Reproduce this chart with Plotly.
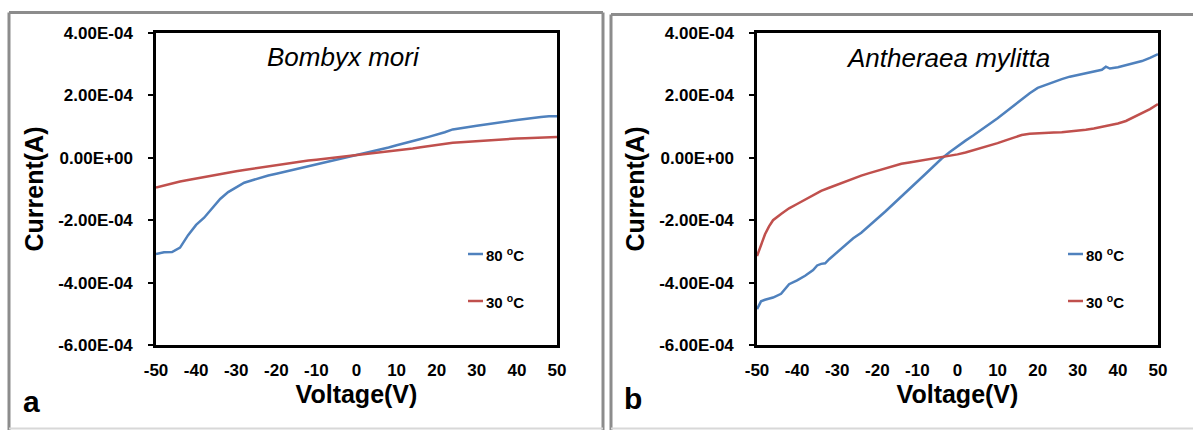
import plotly.graph_objects as go

# ---------------- data (values in units of 1e-4 A) ----------------
volt_a = [-50, -48, -46, -44, -42, -40, -38, -36, -34, -32, -30, -28, -26, -24, -22, -20,
          -18, -16, -14, -12, -10, -8, -6, -4, -2, 0, 2, 4, 6, 8, 10, 12, 14, 16, 18, 20,
          22, 24, 26, 28, 30, 32, 34, 36, 38, 40, 42, 44, 46, 48, 50]
bm_80 = [-3.08, -3.03, -3.02, -2.88, -2.48, -2.15, -1.92, -1.62, -1.32, -1.10, -0.95, -0.80,
         -0.72, -0.64, -0.57, -0.51, -0.45, -0.39, -0.34, -0.28, -0.23, -0.17, -0.11, -0.05,
         0.02, 0.08, 0.14, 0.20, 0.27, 0.33, 0.40, 0.46, 0.52, 0.60, 0.67, 0.74, 0.82, 0.91,
         0.96, 0.99, 1.03, 1.07, 1.10, 1.14, 1.17, 1.21, 1.24, 1.28, 1.31, 1.33, 1.33]
bm_30 = [-0.95, -0.88, -0.82, -0.76, -0.71, -0.66, -0.61, -0.56, -0.51, -0.47, -0.43, -0.39,
         -0.35, -0.31, -0.27, -0.23, -0.19, -0.16, -0.12, -0.09, -0.06, -0.03, 0.00, 0.02,
         0.05, 0.08, 0.10, 0.13, 0.16, 0.19, 0.22, 0.26, 0.30, 0.34, 0.38, 0.42, 0.45, 0.48,
         0.50, 0.52, 0.54, 0.56, 0.58, 0.59, 0.61, 0.62, 0.63, 0.64, 0.65, 0.66, 0.67]

volt_b80 = [-50, -49, -48, -46, -44, -43, -42, -40, -38, -36, -35, -34, -33, -32, -30, -28,
            -26, -24, -22, -20, -18, -16, -14, -12, -10, -8, -6, -4, -2, 0, 2, 4, 6, 8, 10,
            12, 14, 16, 18, 20, 22, 24, 26, 28, 30, 32, 34, 36, 37, 38, 40, 42, 44, 46, 48, 50]
am_80 = [-4.85, -4.60, -4.55, -4.48, -4.36, -4.20, -4.05, -3.93, -3.78, -3.60, -3.45, -3.40,
         -3.38, -3.25, -3.02, -2.78, -2.58, -2.40, -2.18, -1.95, -1.72, -1.48, -1.25, -1.00,
         -0.76, -0.52, -0.27, -0.03, 0.18, 0.38, 0.55, 0.72, 0.90, 1.08, 1.27, 1.47, 1.67,
         1.88, 2.07, 2.24, 2.34, 2.43, 2.52, 2.60, 2.66, 2.70, 2.76, 2.82, 2.92, 2.86, 2.90,
         2.96, 3.02, 3.10, 3.20, 3.32]

volt_b30 = [-50, -49, -48, -47, -46, -44, -42, -40, -38, -36, -34, -32, -30, -28, -26, -24,
            -22, -20, -18, -16, -14, -12, -10, -8, -6, -4, -2, 0, 2, 4, 6, 8, 10, 12, 14,
            16, 18, 20, 22, 24, 26, 28, 30, 32, 34, 36, 38, 40, 42, 44, 46, 48, 50]
am_30 = [-3.15, -2.80, -2.45, -2.20, -2.00, -1.80, -1.62, -1.48, -1.34, -1.20, -1.06, -0.96,
         -0.86, -0.77, -0.67, -0.57, -0.49, -0.41, -0.33, -0.26, -0.19, -0.15, -0.11, -0.07,
         -0.03, 0.01, 0.05, 0.11, 0.17, 0.24, 0.31, 0.39, 0.47, 0.56, 0.65, 0.73, 0.77, 0.79,
         0.80, 0.81, 0.82, 0.84, 0.87, 0.90, 0.94, 0.99, 1.04, 1.10, 1.18, 1.30, 1.42, 1.56, 1.72]

SCALE = 1e-4
y_tickvals = [-6e-4, -4e-4, -2e-4, 0, 2e-4, 4e-4]
y_ticktext = ["-6.00E-04", "-4.00E-04", "-2.00E-04", "0.00E+00", "2.00E-04", "4.00E-04"]
x_tickvals = [-50, -40, -30, -20, -10, 0, 10, 20, 30, 40, 50]
x_ticktext = ["-50", "-40", "-30", "-20", "-10", "0", "10", "20", "30", "40", "50"]
series_names = ["80 <sup>o</sup>C", "30 <sup>o</sup>C"]
panel_titles = ["Bombyx mori", "Antheraea mylitta"]
panel_letters = ["a", "b"]

BLUE = "#4f81bd"
RED = "#c0504d"
FONT = "Liberation Sans, Arial, sans-serif"
W, H = 1193, 430


def px(x):
    return x / W


def py(y):
    return 1 - y / H


fig = go.Figure()

panels = [
    dict(xa="x", ya="y", v80=volt_a, i80=bm_80, v30=volt_a, i30=bm_30),
    dict(xa="x2", ya="y2", v80=volt_b80, i80=am_80, v30=volt_b30, i30=am_30),
]
for p in panels:
    fig.add_trace(go.Scatter(x=p["v80"], y=[v * SCALE for v in p["i80"]], mode="lines",
                             line=dict(color=BLUE, width=2.5), xaxis=p["xa"], yaxis=p["ya"],
                             name=series_names[0], showlegend=False))
    fig.add_trace(go.Scatter(x=p["v30"], y=[v * SCALE for v in p["i30"]], mode="lines",
                             line=dict(color=RED, width=2.5), xaxis=p["xa"], yaxis=p["ya"],
                             name=series_names[1], showlegend=False))

ydom = [py(345), py(33)]
xdoms = [[px(156), px(557)], [px(757), px(1158)]]

common_x = dict(range=[-50, 50], tickvals=x_tickvals, ticktext=x_ticktext, ticks="",
                showline=True, mirror=True,
                linecolor="black", linewidth=2.5, showgrid=False, zeroline=False,
                tickfont=dict(family=FONT, size=17, color="black", weight="bold"),
                ticklabelstandoff=8, automargin=False,
                title=dict(text="Voltage(V)",
                           font=dict(family=FONT, size=25, color="black", weight="bold"),
                           standoff=4))
common_y = dict(range=[-6e-4, 4e-4], tickvals=y_tickvals, ticktext=y_ticktext, ticks="outside",
                ticklen=5, tickwidth=2, tickcolor="black", showline=True, mirror=True,
                linecolor="black", linewidth=2.5, showgrid=False, zeroline=False,
                tickfont=dict(family=FONT, size=17, color="black", weight="bold"),
                ticklabelstandoff=12, automargin=False,
                title=dict(text="Current(A)",
                           font=dict(family=FONT, size=25, color="black", weight="bold"),
                           standoff=8))

fig.update_layout(
    width=W, height=H, template="none",
    margin=dict(l=0, r=0, t=0, b=0, autoexpand=False),
    paper_bgcolor="white", plot_bgcolor="white", showlegend=False,
    xaxis=dict(domain=xdoms[0], anchor="y", **common_x),
    yaxis=dict(domain=ydom, anchor="x", **common_y),
    xaxis2=dict(domain=xdoms[1], anchor="y2", **common_x),
    yaxis2=dict(domain=ydom, anchor="x2", **common_y),
)

# panel frames (gray boxes)
GRAY = "#8c8c8c"
frames = [(9, 12.5, 603), (611, 14.5, 1196)]
for (x0, y0, x1) in frames:
    for (ax0, ay0, ax1, ay1) in [(x0, y0, x0, 432), (x0, y0, x1, y0), (x1, y0, x1, 432)]:
        fig.add_shape(type="line", xref="paper", yref="paper", x0=px(ax0), y0=py(ay0),
                      x1=px(ax1), y1=py(ay1), line=dict(color=GRAY, width=3))
    fig.add_shape(type="line", xref="paper", yref="paper", x0=px(x0), y0=py(428.5),
                  x1=px(x1), y1=py(428.5), line=dict(color="#d8d8d8", width=2))

# subtitles, letters, legends
title_pos = [(343, 57), (948, 58)]
letter_pos = [(31, 401), (633, 398)]
legend_x = [468, 1068]
legend_y = [254, 301]
colors = [BLUE, RED]
for i in range(2):
    fig.add_annotation(text=panel_titles[i], xref="paper", yref="paper",
                       x=px(title_pos[i][0]), y=py(title_pos[i][1]), showarrow=False,
                       xanchor="center", yanchor="middle",
                       font=dict(family=FONT, size=26, color="black", style="italic"))
    fig.add_annotation(text=panel_letters[i], xref="paper", yref="paper",
                       x=px(letter_pos[i][0]), y=py(letter_pos[i][1]), showarrow=False,
                       xanchor="center", yanchor="middle",
                       font=dict(family=FONT, size=30, color="black", weight="bold"))
    for j in range(2):
        lx = legend_x[i]
        ly = legend_y[j]
        fig.add_shape(type="line", xref="paper", yref="paper", x0=px(lx), y0=py(ly),
                      x1=px(lx + 15), y1=py(ly), line=dict(color=colors[j], width=2.5))
        fig.add_annotation(text=series_names[j], xref="paper", yref="paper",
                           x=px(lx + 16), y=py(ly), showarrow=False, xanchor="left",
                           yanchor="middle",
                           font=dict(family=FONT, size=15, color="black", weight="bold"))

fig.write_html("out.html", config={"displayModeBar": False},
               post_script="document.body.style.margin='0';document.body.style.overflow='hidden';")
